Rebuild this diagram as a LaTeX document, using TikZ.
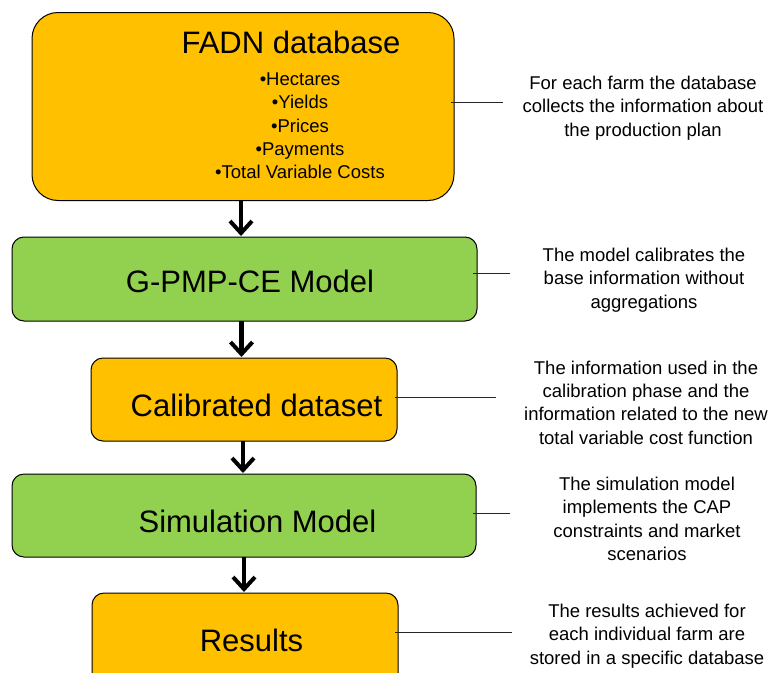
\documentclass[tikz,border=0pt]{standalone}
\usepackage{fontspec}
\setmainfont{Liberation Sans}
\usetikzlibrary{arrows.meta}
\definecolor{boxorange}{HTML}{FFC000}
\definecolor{boxgreen}{HTML}{92D050}
\newcommand{\notefont}{\fontsize{18.5}{23.3}\selectfont}
\newcommand{\titlefont}{\fontsize{31}{37}\selectfont}
\tikzset{
  stagebox/.style={draw=black, line width=1pt, inner sep=0pt, outer sep=0pt},
  databox/.style={stagebox, fill=boxorange, rounded corners=12pt},
  modelbox/.style={stagebox, fill=boxgreen, rounded corners=12pt},
  boxtitle/.style={font=\titlefont, inner sep=0pt},
  notetext/.style={font=\notefont, align=center, inner sep=0pt},
  flow/.style={line width=4.5pt, -{Straight Barb[length=12pt,width=22pt,line width=4pt]}},
  leader/.style={line width=0.9pt, draw=black!85}
}
\begin{document}
\begin{tikzpicture}[x=1pt, y=-1pt]
  \useasboundingbox (0,0) rectangle (770,672);
  \clip (0,0) rectangle (770,672);

  % stage boxes
  \node[databox, rounded corners=26pt, minimum width=422pt, minimum height=188pt] (fadn) at (243,106.5) {};
  \node[modelbox, minimum width=465pt, minimum height=84pt] (gpmp) at (244.5,279) {};
  \node[databox, minimum width=306pt, minimum height=83pt] (calib) at (244,399.5) {};
  \node[modelbox, minimum width=464pt, minimum height=83pt] (sim) at (244,515.5) {};
  \node[databox, minimum width=306pt, minimum height=110pt] (res) at (245,648) {};

  % box labels
  \node[boxtitle] (fadnt) at (291,42) {FADN database};
  \node[notetext, font=\notefont] (fadnl) at (300,126) {•Hectares\\ •Yields\\ •Prices\\ •Payments\\ •Total Variable Costs};
  \node[boxtitle] (gpmpt) at (250,281) {G-PMP-CE Model};
  \node[boxtitle] (calibt) at (256.5,405) {Calibrated dataset};
  \node[boxtitle] (simt) at (257.5,521) {Simulation Model};
  \node[boxtitle] (rest) at (251.5,640) {Results};

  % flow between stages
  \draw[flow] (fadn.south -| 241,0) -- ([yshift=1pt]gpmp.north -| 241,0);
  \draw[flow] (gpmp.south -| 241.5,0) -- ([yshift=1pt]calib.north -| 241.5,0);
  \draw[flow] (calib.south -| 243,0) -- ([yshift=1pt]sim.north -| 243,0);
  \draw[flow] (sim.south -| 244,0) -- ([yshift=1pt]res.north -| 244,0);

  % side notes
  \node[notetext] (n1) at (643,108) {For each farm the database\\ collects the information about\\ the production plan};
  \node[notetext] (n2) at (644,280) {The model calibrates the\\ base information without\\ aggregations};
  \node[notetext] (n3) at (646,402.5) {The information used in the\\ calibration phase and the\\ information related to the new\\ total variable cost function};
  \node[notetext] (n4) at (647,519) {The simulation model\\ implements the CAP\\ constraints and market\\ scenarios};
  \node[notetext] (n5) at (647,636) {The results achieved for\\ each individual farm are\\ stored in a specific database};

  % leader lines from the boxes towards the notes
  \coordinate (e1) at (503,102);
  \coordinate (e2) at (510,273);
  \coordinate (e3) at (496,397);
  \coordinate (e4) at (510,513);
  \coordinate (e5) at (512,632);
  \draw[leader] ([xshift=-3pt]fadn.east |- e1) -- (e1);
  \draw[leader] ([xshift=-4pt]gpmp.east |- e2) -- (e2);
  \draw[leader] ([xshift=-2pt]calib.east |- e3) -- (e3);
  \draw[leader] ([xshift=-3pt]sim.east |- e4) -- (e4);
  \draw[leader] ([xshift=-3pt]res.east |- e5) -- (e5);
\end{tikzpicture}
\end{document}
